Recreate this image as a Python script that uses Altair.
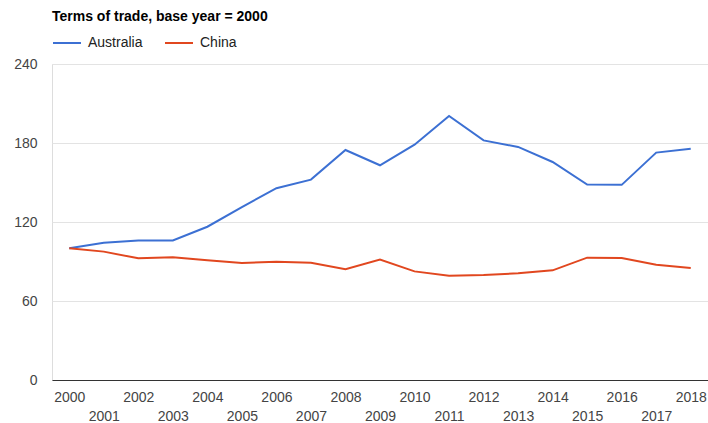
import altair as alt
import pandas as pd

years = list(range(2000, 2019))
australia = [100, 104.2, 106, 106, 116.4, 131.3, 145.7, 152.2, 174.7, 163.1,
             178.7, 200.5, 182, 177, 165.6, 148.4, 148.2, 172.7, 175.7]
china = [100, 97.5, 92.4, 93.2, 90.9, 88.9, 89.9, 89.1, 84.1, 91.4,
         82.5, 79.2, 79.7, 81, 83.3, 92.9, 92.7, 87.6, 85.1]
series_names = ["Australia", "China"]
series_colors = ["#3c70d3", "#e1471f"]
y_ticks = [0, 60, 120, 180, 240]

df = pd.DataFrame({
    "year": years * 2,
    "value": australia + china,
    "series": [series_names[0]] * len(years) + [series_names[1]] * len(years),
})

FONT = "Liberation Sans"

chart = alt.Chart(df).mark_line(strokeWidth=2).encode(
    x=alt.X("year:Q",
            scale=alt.Scale(domain=[1999.5, 2018.5], nice=False, zero=False),
            axis=alt.Axis(values=years, title=None, grid=False, ticks=False,
                          domain=True, domainColor="#333333", domainWidth=1,
                          labelOverlap=False, labelFlush=False,
                          labelExpr="datum.value % 2 == 1 ? ['', datum.label] : datum.label",
                          labelLineHeight=19, labelBaseline="top",
                          labelPadding=10, labelFontSize=14, labelColor="#444444",
                          labelFont=FONT, format="d")),
    y=alt.Y("value:Q",
            scale=alt.Scale(domain=[0, 240], nice=False),
            axis=alt.Axis(values=y_ticks, title=None, domain=False, ticks=False,
                          gridColor="#e3e3e3", gridWidth=1,
                          labelPadding=15, labelFontSize=14, labelColor="#444444",
                          labelFont=FONT)),
    color=alt.Color("series:N",
                    scale=alt.Scale(domain=series_names, range=series_colors),
                    legend=alt.Legend(title=None, orient="none", legendX=0, legendY=-36,
                                      direction="horizontal", symbolType="stroke",
                                      symbolSize=784, symbolStrokeWidth=2,
                                      labelFontSize=14, labelColor="#222222",
                                      labelFont=FONT, labelOffset=6,
                                      columnPadding=18)),
).properties(
    width=656,
    height=316,
    padding={"left": 52, "top": 64, "right": 0, "bottom": 43},
    autosize=alt.AutoSizeParams(type="none"),
    title=alt.TitleParams("Terms of trade, base year = 2000", anchor="start",
                          frame="group", fontSize=14, fontWeight="bold",
                          color="#000000", font=FONT, offset=4),
).configure_view(stroke=None).configure(background="white")

chart.save("out.html", embed_options={"renderer": "svg", "actions": False})
